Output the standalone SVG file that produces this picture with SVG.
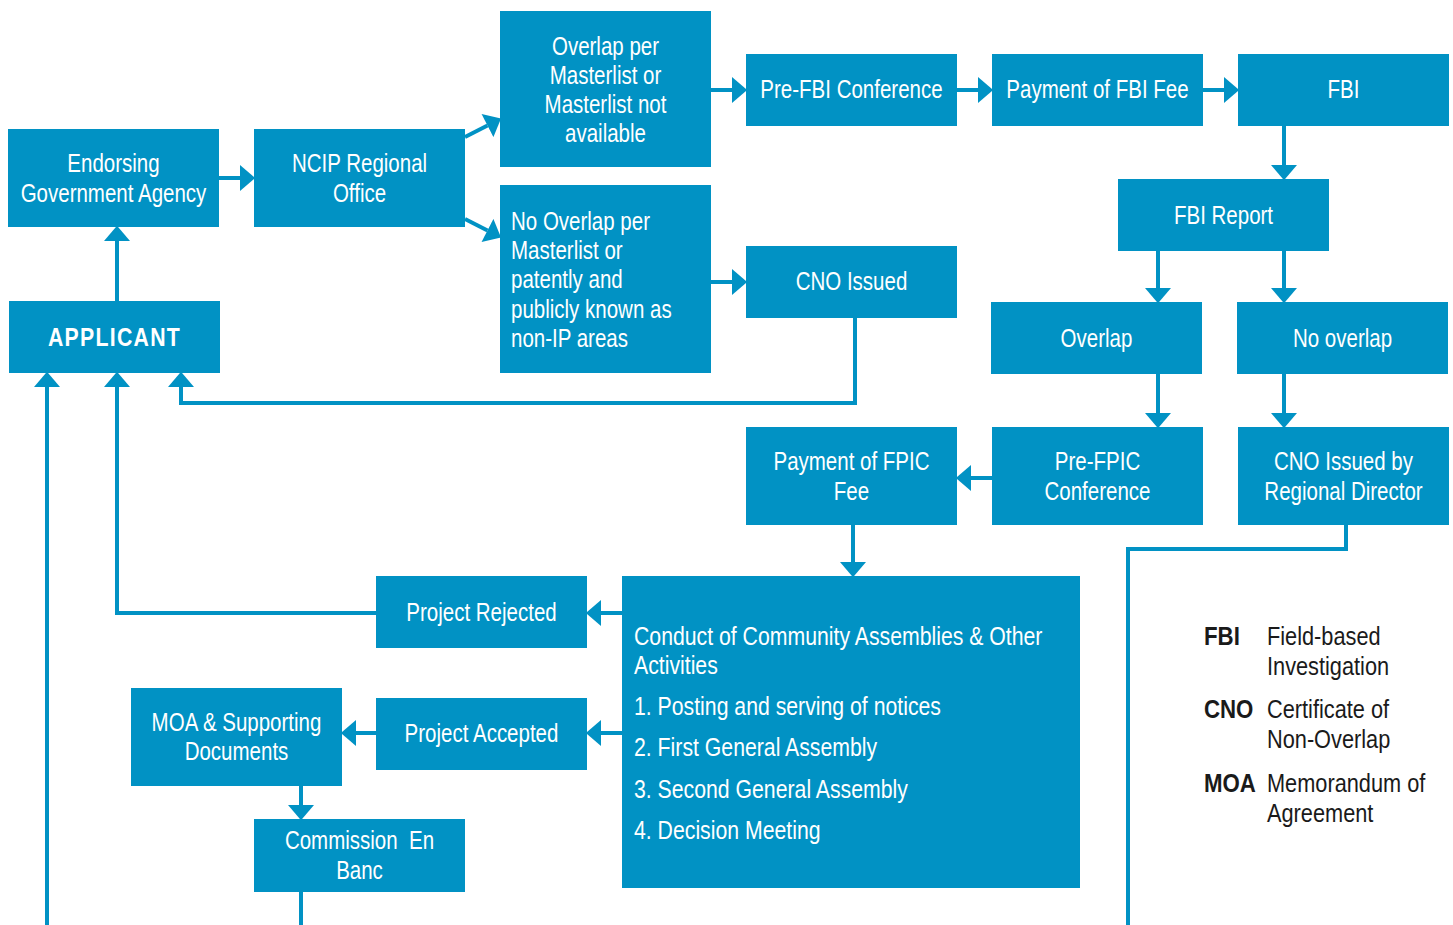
<svg xmlns="http://www.w3.org/2000/svg" width="1453" height="925" viewBox="0 0 1453 925">
<defs>
<style>
.box{fill:#0192c4;}
.t{font-family:"Liberation Sans",Arial,sans-serif;font-size:25px;fill:#ffffff;}
.c{text-anchor:middle;}
.b{font-weight:bold;}
.lg{font-family:"Liberation Sans",Arial,sans-serif;font-size:25px;fill:#1a1a1a;}
.ln{fill:none;stroke:#0192c4;stroke-width:4;}
.ar{marker-end:url(#ah);}
</style>
<marker id="ah" markerUnits="userSpaceOnUse" markerWidth="16" markerHeight="26" refX="0" refY="12" orient="auto" viewBox="0 0 14 24">
<path d="M0,0 L14,12 L0,24 Z" fill="#0192c4"/>
</marker>
</defs>
<rect width="1453" height="925" fill="#ffffff"/>

<g id="connectors">
<line class="ln ar" x1="219" y1="178" x2="240" y2="178"/>
<line class="ln ar" x1="117" y1="301" x2="117" y2="241"/>
<line class="ln ar" x1="465" y1="137" x2="487.5" y2="125.5"/>
<line class="ln ar" x1="465" y1="219" x2="487.5" y2="230.5"/>
<line class="ln ar" x1="711" y1="90" x2="732" y2="90"/>
<line class="ln ar" x1="957" y1="90" x2="978" y2="90"/>
<line class="ln ar" x1="1203" y1="90" x2="1224" y2="90"/>
<line class="ln ar" x1="1284" y1="126" x2="1284" y2="165"/>
<line class="ln ar" x1="1158" y1="251" x2="1158" y2="288"/>
<line class="ln ar" x1="1284" y1="251" x2="1284" y2="288"/>
<line class="ln ar" x1="711" y1="282" x2="732" y2="282"/>
<polyline class="ln ar" points="855,318 855,403 181,403 181,387"/>
<line class="ln ar" x1="1158" y1="374" x2="1158" y2="413"/>
<line class="ln ar" x1="1284" y1="374" x2="1284" y2="413"/>
<line class="ln ar" x1="992" y1="478" x2="971" y2="478"/>
<line class="ln ar" x1="853" y1="525" x2="853" y2="562"/>
<polyline class="ln" points="1346,525 1346,549 1128,549 1128,925"/>
<line class="ln ar" x1="622" y1="613" x2="601" y2="613"/>
<line class="ln ar" x1="622" y1="733" x2="601" y2="733"/>
<polyline class="ln ar" points="376,613 117,613 117,387"/>
<line class="ln ar" x1="376" y1="733" x2="356" y2="733"/>
<line class="ln ar" x1="301" y1="786" x2="301" y2="805"/>
<line class="ln" x1="301" y1="892" x2="301" y2="925"/>
<line class="ln ar" x1="47" y1="925" x2="47" y2="387"/>
</g>

<g id="endorsing">
<rect class="box" x="8" y="129" width="211" height="98"/>
<text class="t c" transform="matrix(0.82 0 0 1 113.5 0)" y="172">Endorsing</text>
<text class="t c" transform="matrix(0.82 0 0 1 113.5 0)" y="202">Government Agency</text>
</g>
<g id="ncip">
<rect class="box" x="254" y="129" width="211" height="98"/>
<text class="t c" transform="matrix(0.82 0 0 1 359.5 0)" y="172">NCIP Regional</text>
<text class="t c" transform="matrix(0.82 0 0 1 359.5 0)" y="202">Office</text>
</g>
<g id="applicant">
<rect class="box" x="9" y="301" width="211" height="72"/>
<text class="t c b" transform="matrix(0.85 0 0 1 114.5 0)" y="346" letter-spacing="1.5">APPLICANT</text>
</g>
<g id="overlap-masterlist">
<rect class="box" x="500" y="11" width="211" height="156"/>
<text class="t c" transform="matrix(0.82 0 0 1 605.5 0)" y="55">Overlap per</text>
<text class="t c" transform="matrix(0.82 0 0 1 605.5 0)" y="84">Masterlist or</text>
<text class="t c" transform="matrix(0.82 0 0 1 605.5 0)" y="113">Masterlist not</text>
<text class="t c" transform="matrix(0.82 0 0 1 605.5 0)" y="142">available</text>
</g>
<g id="no-overlap-masterlist">
<rect class="box" x="500" y="185" width="211" height="188"/>
<text class="t" transform="matrix(0.82 0 0 1 511 0)" y="230">No Overlap per</text>
<text class="t" transform="matrix(0.82 0 0 1 511 0)" y="259">Masterlist or</text>
<text class="t" transform="matrix(0.82 0 0 1 511 0)" y="288">patently and</text>
<text class="t" transform="matrix(0.82 0 0 1 511 0)" y="318">publicly known as</text>
<text class="t" transform="matrix(0.82 0 0 1 511 0)" y="347">non-IP areas</text>
</g>
<g id="pre-fbi">
<rect class="box" x="746" y="54" width="211" height="72"/>
<text class="t c" transform="matrix(0.82 0 0 1 851.5 0)" y="98">Pre-FBI Conference</text>
</g>
<g id="payment-fbi">
<rect class="box" x="992" y="54" width="211" height="72"/>
<text class="t c" transform="matrix(0.82 0 0 1 1097.5 0)" y="98">Payment of FBI Fee</text>
</g>
<g id="fbi">
<rect class="box" x="1238" y="54" width="211" height="72"/>
<text class="t c" transform="matrix(0.82 0 0 1 1343.5 0)" y="98">FBI</text>
</g>
<g id="cno-issued">
<rect class="box" x="746" y="246" width="211" height="72"/>
<text class="t c" transform="matrix(0.82 0 0 1 851.5 0)" y="290">CNO Issued</text>
</g>
<g id="fbi-report">
<rect class="box" x="1118" y="179" width="211" height="72"/>
<text class="t c" transform="matrix(0.82 0 0 1 1223.5 0)" y="224">FBI Report</text>
</g>
<g id="overlap">
<rect class="box" x="991" y="302" width="211" height="72"/>
<text class="t c" transform="matrix(0.82 0 0 1 1096.5 0)" y="347">Overlap</text>
</g>
<g id="no-overlap">
<rect class="box" x="1237" y="302" width="211" height="72"/>
<text class="t c" transform="matrix(0.82 0 0 1 1342.5 0)" y="347">No overlap</text>
</g>
<g id="payment-fpic">
<rect class="box" x="746" y="427" width="211" height="98"/>
<text class="t c" transform="matrix(0.82 0 0 1 851.5 0)" y="470">Payment of FPIC</text>
<text class="t c" transform="matrix(0.82 0 0 1 851.5 0)" y="500">Fee</text>
</g>
<g id="pre-fpic">
<rect class="box" x="992" y="427" width="211" height="98"/>
<text class="t c" transform="matrix(0.82 0 0 1 1097.5 0)" y="470">Pre-FPIC</text>
<text class="t c" transform="matrix(0.82 0 0 1 1097.5 0)" y="500">Conference</text>
</g>
<g id="cno-rd">
<rect class="box" x="1238" y="427" width="211" height="98"/>
<text class="t c" transform="matrix(0.82 0 0 1 1343.5 0)" y="470">CNO Issued by</text>
<text class="t c" transform="matrix(0.82 0 0 1 1343.5 0)" y="500">Regional Director</text>
</g>
<g id="conduct">
<rect class="box" x="622" y="576" width="458" height="312"/>
<text class="t" transform="matrix(0.85 0 0 1 634 0)" y="645">Conduct of Community Assemblies &amp; Other</text>
<text class="t" transform="matrix(0.85 0 0 1 634 0)" y="674">Activities</text>
<text class="t" transform="matrix(0.85 0 0 1 634 0)" y="715">1. Posting and serving of notices</text>
<text class="t" transform="matrix(0.85 0 0 1 634 0)" y="756">2. First General Assembly</text>
<text class="t" transform="matrix(0.85 0 0 1 634 0)" y="798">3. Second General Assembly</text>
<text class="t" transform="matrix(0.85 0 0 1 634 0)" y="839">4. Decision Meeting</text>
</g>
<g id="project-rejected">
<rect class="box" x="376" y="576" width="211" height="72"/>
<text class="t c" transform="matrix(0.82 0 0 1 481.5 0)" y="621">Project Rejected</text>
</g>
<g id="project-accepted">
<rect class="box" x="376" y="698" width="211" height="72"/>
<text class="t c" transform="matrix(0.82 0 0 1 481.5 0)" y="742">Project Accepted</text>
</g>
<g id="moa">
<rect class="box" x="131" y="688" width="211" height="98"/>
<text class="t c" transform="matrix(0.82 0 0 1 236.5 0)" y="731">MOA &amp; Supporting</text>
<text class="t c" transform="matrix(0.82 0 0 1 236.5 0)" y="760">Documents</text>
</g>
<g id="commission">
<rect class="box" x="254" y="819" width="211" height="73"/>
<text class="t c" transform="matrix(0.82 0 0 1 359.5 0)" y="849" xml:space="preserve">Commission  En</text>
<text class="t c" transform="matrix(0.82 0 0 1 359.5 0)" y="879">Banc</text>
</g>

<g id="legend">
<text class="lg b" transform="matrix(0.89 0 0 1 1204 0)" y="645">FBI</text>
<text class="lg" transform="matrix(0.87 0 0 1 1267 0)" y="645">Field-based</text>
<text class="lg" transform="matrix(0.87 0 0 1 1267 0)" y="675">Investigation</text>
<text class="lg b" transform="matrix(0.89 0 0 1 1204 0)" y="718">CNO</text>
<text class="lg" transform="matrix(0.87 0 0 1 1267 0)" y="718">Certificate of</text>
<text class="lg" transform="matrix(0.87 0 0 1 1267 0)" y="748">Non-Overlap</text>
<text class="lg b" transform="matrix(0.89 0 0 1 1204 0)" y="792">MOA</text>
<text class="lg" transform="matrix(0.87 0 0 1 1267 0)" y="792">Memorandum of</text>
<text class="lg" transform="matrix(0.87 0 0 1 1267 0)" y="822">Agreement</text>
</g>
</svg>
